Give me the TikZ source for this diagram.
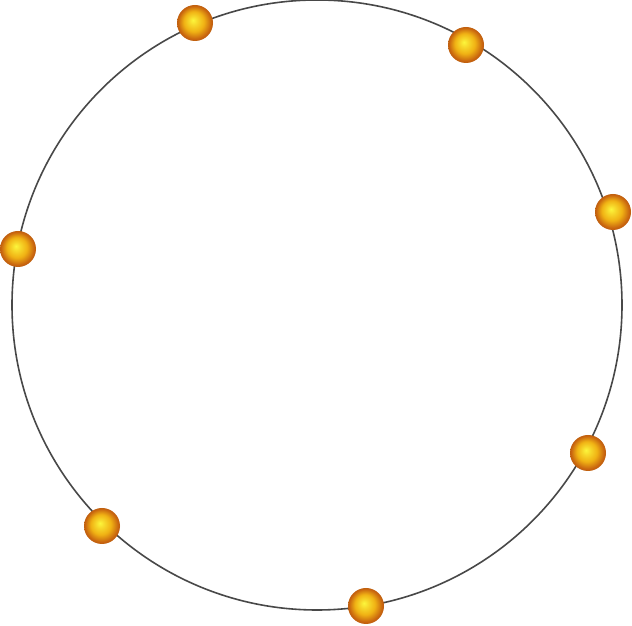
\documentclass[tikz,border=0pt]{standalone}
\definecolor{ringgray}{RGB}{72,72,72}
\definecolor{ballhi}{RGB}{252,246,60}
\definecolor{ballmid}{RGB}{240,178,20}
\definecolor{ballrim}{RGB}{200,100,15}
\pgfdeclareradialshading{goldsphere}{\pgfpoint{-3bp}{4bp}}{%
  color(0bp)=(ballhi); color(6bp)=(ballhi!55!ballmid); color(14bp)=(ballmid);
  color(23bp)=(ballrim); color(29bp)=(ballrim!85!black)}
\tikzset{
  ring/.style={draw=ringgray, line width=1.6pt},
  ball/.style={circle, minimum size=36pt, inner sep=0pt, shading=goldsphere}
}
\begin{document}
\begin{tikzpicture}[x=1pt, y=1pt]
	\useasboundingbox (0, 0) rectangle (632, 626);
	\coordinate (c) at (317, 321);
	\draw[ring] (c) circle (305);
	\foreach \x/\y/\n in {195/603/b1, 466/581/b2, 613/414/b3, 18/377/b4, 588/173/b5, 102/100/b6, 366/20/b7}
		\node[ball] (\n) at (\x, \y) {};
\end{tikzpicture}
\end{document}
